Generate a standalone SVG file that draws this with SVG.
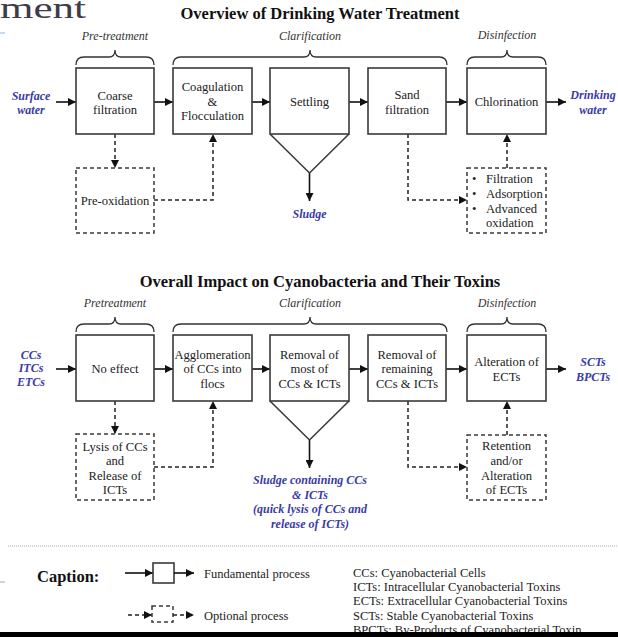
<svg xmlns="http://www.w3.org/2000/svg" width="618" height="637" viewBox="0 0 618 637">
<defs>
<marker id="ah" viewBox="0 0 10 10" refX="10" refY="5" markerWidth="9" markerHeight="8" markerUnits="userSpaceOnUse" orient="auto">
<path d="M0,0 L10,5 L0,10 z" fill="#111"/>
</marker>
</defs>
<style>
.box{fill:#fff;stroke:#3a3a3a;stroke-width:1.6}
.dbox{fill:#fff;stroke:#3a3a3a;stroke-width:1.5;stroke-dasharray:4 3}
.t{font-family:"Liberation Serif",serif;font-size:12.6px;fill:#222;text-anchor:middle}
.tl{font-family:"Liberation Serif",serif;font-size:12.6px;fill:#222}
.lab{font-family:"Liberation Serif",serif;font-size:12px;font-style:italic;fill:#333;text-anchor:middle}
.blue{font-family:"Liberation Serif",serif;font-size:12px;font-style:italic;font-weight:bold;fill:#3b3ba6;text-anchor:middle}
.title{font-family:"Liberation Serif",serif;font-size:16.5px;font-weight:bold;fill:#111;text-anchor:middle}
.leg{font-family:"Liberation Serif",serif;font-size:12.5px;fill:#222}
.sol{fill:none;stroke:#111;stroke-width:1.6}
.dsh{fill:none;stroke:#222;stroke-width:1.5;stroke-dasharray:4 3}
.brace{fill:none;stroke:#333;stroke-width:1.3}
.hop{fill:none;stroke:#3a3a3a;stroke-width:1.6}
</style>
<rect width="618" height="637" fill="#fff"/>
<text x="0" y="18" textLength="86" lengthAdjust="spacingAndGlyphs" style="font-family:'Liberation Serif',serif;font-size:29px;fill:#3c3c4a">ment</text>
<line x1="0" y1="33" x2="5" y2="33" stroke="#8ab4d8" stroke-width="1"/>
<line x1="0" y1="582" x2="5" y2="582" stroke="#9aa8c0" stroke-width="1"/>

<text class="title" x="320" y="19">Overview of Drinking Water Treatment</text>
<g id="labels1">
<text class="lab" x="115" y="40">Pre-treatment</text>
<text class="lab" x="310" y="40">Clarification</text>
<text class="lab" x="507" y="39">Disinfection</text>
<path class="brace" d="M76,65 Q76,57 84,57 L109,57 Q115,57 115,50 Q115,57 121,57 L146,57 Q154,57 154,65"/>
<path class="brace" d="M173,65 Q173,57 181,57 L304,57 Q310,57 310,50 Q310,57 316,57 L439,57 Q447,57 447,65"/>
<path class="brace" d="M467,65 Q467,57 475,57 L501,57 Q507,57 507,50 Q507,57 513,57 L538,57 Q546,57 546,65"/>
</g>

<g id="connectors">
<line class="sol" x1="56" y1="102" x2="76" y2="102" marker-end="url(#ah)"/>
<line class="sol" x1="154" y1="102" x2="173" y2="102" marker-end="url(#ah)"/>
<line class="sol" x1="252" y1="102" x2="270" y2="102" marker-end="url(#ah)"/>
<line class="sol" x1="349" y1="102" x2="368" y2="102" marker-end="url(#ah)"/>
<line class="sol" x1="446" y1="102" x2="467" y2="102" marker-end="url(#ah)"/>
<line class="sol" x1="546" y1="102" x2="566" y2="102" marker-end="url(#ah)"/>
<line class="sol" x1="309.5" y1="173" x2="309.5" y2="201" marker-end="url(#ah)"/>
<path class="dsh" d="M115,134 L115,168" marker-end="url(#ah)"/>
<path class="dsh" d="M154,200 L213,200 L213,134" marker-end="url(#ah)"/>
<path class="dsh" d="M408,134 L408,200 L467,200" marker-end="url(#ah)"/>
<path class="dsh" d="M507,168 L507,134" marker-end="url(#ah)"/>

<line class="sol" x1="56" y1="369" x2="76" y2="369" marker-end="url(#ah)"/>
<line class="sol" x1="154" y1="369" x2="173" y2="369" marker-end="url(#ah)"/>
<line class="sol" x1="252" y1="369" x2="270" y2="369" marker-end="url(#ah)"/>
<line class="sol" x1="349" y1="369" x2="368" y2="369" marker-end="url(#ah)"/>
<line class="sol" x1="446" y1="369" x2="467" y2="369" marker-end="url(#ah)"/>
<line class="sol" x1="546" y1="369" x2="566" y2="369" marker-end="url(#ah)"/>
<line class="sol" x1="309.5" y1="440" x2="309.5" y2="468" marker-end="url(#ah)"/>
<path class="dsh" d="M115,401 L115,434" marker-end="url(#ah)"/>
<path class="dsh" d="M154,467 L213,467 L213,401" marker-end="url(#ah)"/>
<path class="dsh" d="M408,401 L408,467 L467,467" marker-end="url(#ah)"/>
<path class="dsh" d="M507,435 L507,401" marker-end="url(#ah)"/>
</g>

<g id="surface-water"><text class="blue" x="31" y="100">Surface</text><text class="blue" x="31" y="114">water</text></g>
<g id="coarse-filtration"><rect class="box" x="76" y="68" width="78" height="66"/><text class="t" x="115" y="100">Coarse</text><text class="t" x="115" y="114">filtration</text></g>
<g id="coagulation"><rect class="box" x="173" y="68" width="79" height="66"/><text class="t" x="212.5" y="91">Coagulation</text><text class="t" x="212.5" y="106">&amp;</text><text class="t" x="212.5" y="120">Flocculation</text></g>
<g id="settling"><rect class="box" x="270" y="68" width="79" height="66"/><path class="hop" d="M270,134 L309.5,173 L349,134"/><text class="t" x="309.5" y="106">Settling</text></g>
<g id="sand-filtration"><rect class="box" x="368" y="68" width="78" height="66"/><text class="t" x="407" y="99">Sand</text><text class="t" x="407" y="114">filtration</text></g>
<g id="chlorination"><rect class="box" x="467" y="68" width="79" height="66"/><text class="t" x="506.5" y="106">Chlorination</text></g>
<g id="drinking-water"><text class="blue" x="593" y="99">Drinking</text><text class="blue" x="593" y="114">water</text></g>
<g id="sludge"><text class="blue" x="309.5" y="218">Sludge</text></g>
<g id="pre-oxidation"><rect class="dbox" x="76" y="168" width="78" height="65"/><text class="t" x="115" y="205">Pre-oxidation</text></g>
<g id="advanced"><rect class="dbox" x="467" y="168" width="79" height="65"/>
<text class="tl" x="472" y="183">•</text><text class="tl" x="486" y="183">Filtration</text>
<text class="tl" x="472" y="198">•</text><text class="tl" x="486" y="198">Adsorption</text>
<text class="tl" x="472" y="213">•</text><text class="tl" x="486" y="213">Advanced</text>
<text class="tl" x="486" y="227">oxidation</text></g>

<text class="title" x="320" y="287">Overall Impact on Cyanobacteria and Their Toxins</text>
<g id="labels2">
<text class="lab" x="115" y="307">Pretreatment</text>
<text class="lab" x="310" y="307">Clarification</text>
<text class="lab" x="507" y="307">Disinfection</text>
<path class="brace" d="M76,332 Q76,324 84,324 L109,324 Q115,324 115,317 Q115,324 121,324 L146,324 Q154,324 154,332"/>
<path class="brace" d="M173,332 Q173,324 181,324 L304,324 Q310,324 310,317 Q310,324 316,324 L439,324 Q447,324 447,332"/>
<path class="brace" d="M467,332 Q467,324 475,324 L501,324 Q507,324 507,317 Q507,324 513,324 L538,324 Q546,324 546,332"/>
</g>
<g id="inputs"><text class="blue" x="31" y="359">CCs</text><text class="blue" x="31" y="372">ITCs</text><text class="blue" x="31" y="386">ETCs</text></g>
<g id="no-effect"><rect class="box" x="76" y="335" width="78" height="66"/><text class="t" x="115" y="373">No effect</text></g>
<g id="agglomeration"><rect class="box" x="173" y="335" width="79" height="66"/><text class="t" x="212.5" y="359">Agglomeration</text><text class="t" x="212.5" y="373">of CCs into</text><text class="t" x="212.5" y="388">flocs</text></g>
<g id="removal-most"><rect class="box" x="270" y="335" width="79" height="66"/><path class="hop" d="M270,401 L309.5,440 L349,401"/><text class="t" x="309.5" y="359">Removal of</text><text class="t" x="309.5" y="373">most of</text><text class="t" x="309.5" y="388">CCs &amp; ICTs</text></g>
<g id="removal-remaining"><rect class="box" x="368" y="335" width="78" height="66"/><text class="t" x="407" y="359">Removal of</text><text class="t" x="407" y="373">remaining</text><text class="t" x="407" y="388">CCs &amp; ICTs</text></g>
<g id="alteration"><rect class="box" x="467" y="335" width="79" height="66"/><text class="t" x="506.5" y="366">Alteration of</text><text class="t" x="506.5" y="381">ECTs</text></g>
<g id="outputs"><text class="blue" x="593" y="366">SCTs</text><text class="blue" x="593" y="381">BPCTs</text></g>
<g id="sludge2"><text class="blue" x="310" y="484">Sludge containing CCs</text><text class="blue" x="310" y="499">&amp; ICTs</text><text class="blue" x="310" y="513">(quick lysis of CCs and</text><text class="blue" x="310" y="528">release of ICTs)</text></g>
<g id="lysis"><rect class="dbox" x="76" y="434" width="78" height="66"/><text class="t" x="115" y="451">Lysis of CCs</text><text class="t" x="115" y="465">and</text><text class="t" x="115" y="480">Release of</text><text class="t" x="115" y="494">ICTs</text></g>
<g id="retention"><rect class="dbox" x="467" y="435" width="79" height="65"/><text class="t" x="506.5" y="450">Retention</text><text class="t" x="506.5" y="465">and/or</text><text class="t" x="506.5" y="480">Alteration</text><text class="t" x="506.5" y="494">of ECTs</text></g>

<line x1="8" y1="546" x2="618" y2="546" stroke="#aaa" stroke-width="1" stroke-dasharray="1 1"/>
<g id="caption">
<text x="37" y="582" style="font-family:'Liberation Serif',serif;font-size:16.5px;font-weight:bold;fill:#111">Caption:</text>
<line class="sol" x1="125" y1="573" x2="153" y2="573" marker-end="url(#ah)"/>
<rect class="box" x="153" y="563" width="21" height="20"/>
<line class="sol" x1="174" y1="573" x2="194" y2="573" marker-end="url(#ah)"/>
<text class="leg" x="204" y="578">Fundamental process</text>
<line class="dsh" x1="128" y1="615" x2="152" y2="615" marker-end="url(#ah)"/>
<rect class="dbox" x="152" y="606" width="21" height="16"/>
<line class="dsh" x1="173" y1="615" x2="194" y2="615" marker-end="url(#ah)"/>
<text class="leg" x="204" y="620">Optional process</text>
<text class="leg" x="353" y="577">CCs: Cyanobacterial Cells</text>
<text class="leg" x="353" y="591">ICTs: Intracellular Cyanobacterial Toxins</text>
<text class="leg" x="353" y="605">ECTs: Extracellular Cyanobacterial Toxins</text>
<text class="leg" x="353" y="620">SCTs: Stable Cyanobacterial Toxins</text>
<text class="leg" x="353" y="634">BPCTs: By-Products of Cyanobacterial Toxin</text>
</g>
<rect x="0" y="632" width="618" height="5" fill="#000"/>
</svg>
